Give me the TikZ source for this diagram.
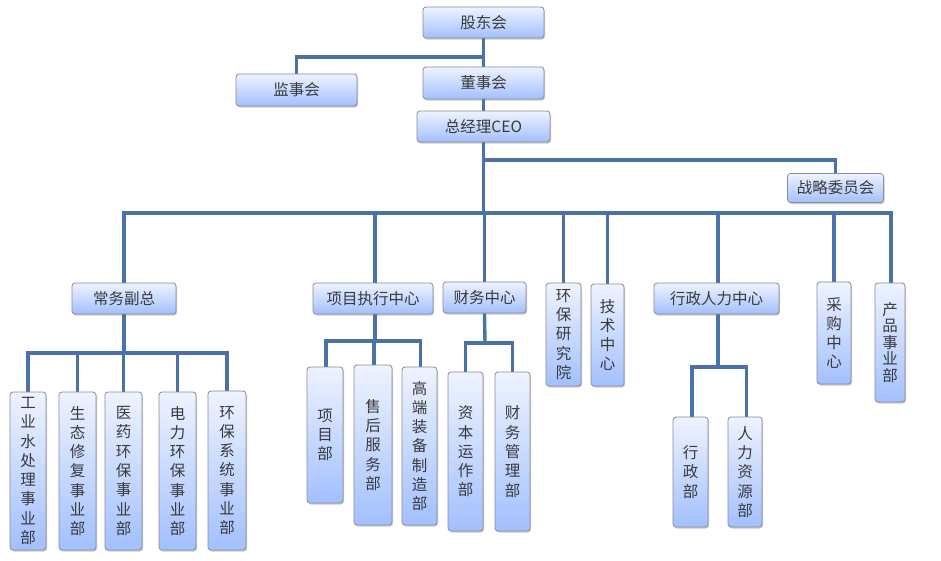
\documentclass[tikz,border=0pt]{standalone}
\usepackage{fontspec}
\setmainfont{Noto Sans CJK SC}
\usetikzlibrary{shadows,backgrounds}
\definecolor{linec}{HTML}{4A72A8}
\definecolor{boxtop}{HTML}{EEF3FF}
\definecolor{boxbot}{HTML}{A2C0FF}
\definecolor{boxline}{HTML}{8C8C96}
\definecolor{txt}{HTML}{3A3A3A}
\tikzset{
  box/.style={rectangle, rounded corners=3pt, draw=boxline, line width=0.8pt,
    top color=boxtop, bottom color=boxbot, inner sep=0pt,
    drop shadow={shadow xshift=1pt, shadow yshift=-1.5pt, opacity=0.35, fill=black!60},
    text=txt, font=\fontsize{15.5}{19.3}\selectfont, align=center},
  conn/.style={draw=linec, line width=3.4pt}
}
\newcommand{\bx}[6]{\node[box, minimum width=#4, minimum height=#5] (#1) at (#2,#3) {#6};}
\begin{document}
\begin{tikzpicture}[x=1pt,y=-1pt]
\useasboundingbox (0,0) rectangle (941,560);
% top level
\bx{gd}{483.5}{22.5}{121pt}{31pt}{股东会}
\bx{jsh}{296.5}{90}{121pt}{32pt}{监事会}
\bx{ds}{483.5}{83}{121pt}{32pt}{董事会}
\bx{ceo}{483.5}{126.5}{133pt}{31pt}{总经理CEO}
\bx{zl}{835.5}{188}{96pt}{29pt}{战略委员会}
% second level
\bx{cw}{124}{298.5}{104pt}{31pt}{常务副总}
\bx{xm}{373}{298.5}{120pt}{31pt}{项目执行中心}
\bx{cwzx}{484.5}{297.5}{83pt}{31pt}{财务中心}
\bx{hb}{563.5}{334.5}{35pt}{103pt}{环\\保\\研\\究\\院}
\bx{jszx}{607.5}{335}{33pt}{102pt}{技\\术\\中\\心}
\bx{xz}{716.5}{298.5}{125pt}{31pt}{行政人力中心}
\bx{cg}{834}{333}{34pt}{102pt}{采\\购\\中\\心}
\node[box, minimum width=30pt, minimum height=119pt, font=\fontsize{15.5}{16.5}\selectfont] (cp) at (890,342.5) {产\\品\\事\\业\\部};
% third level
\bx{a1}{28}{471}{36pt}{158pt}{工\\业\\水\\处\\理\\事\\业\\部}
\bx{a2}{77.5}{471}{37pt}{158pt}{生\\态\\修\\复\\事\\业\\部}
\bx{a3}{123.5}{471}{37pt}{158pt}{医\\药\\环\\保\\事\\业\\部}
\bx{a4}{177.5}{471}{37pt}{158pt}{电\\力\\环\\保\\事\\业\\部}
\bx{a5}{227}{470.5}{38pt}{159pt}{环\\保\\系\\统\\事\\业\\部}
\bx{b1}{325}{435}{36pt}{136pt}{项\\目\\部}
\bx{b2}{373}{445}{38pt}{160pt}{售\\后\\服\\务\\部}
\bx{b3}{419.5}{446}{35pt}{158pt}{高\\端\\装\\备\\制\\造\\部}
\bx{c1}{465.5}{451.5}{35pt}{159pt}{资\\本\\运\\作\\部}
\bx{c2}{512.5}{451.5}{35pt}{159pt}{财\\务\\管\\理\\部}
\bx{d1}{690.5}{472}{35pt}{110pt}{行\\政\\部}
\bx{d2}{745}{472}{34pt}{110pt}{人\\力\\资\\源\\部}
% junction coordinates
\coordinate (j0) at (483.5,57);
\coordinate (j1) at (483.5,160);
\coordinate (m) at (483.5,213);
\coordinate (ja) at (124,353);
\coordinate (jb) at (375,341);
\coordinate (jc) at (485,343);
\coordinate (jd) at (718,367);
\begin{pgfonlayer}{background}
\draw[conn] (gd.south) -- (ds.north);
\draw[conn] (ds.south) -- (ceo.north);
\draw[conn] (j0) -| (jsh.north);
\draw[conn] (ceo.south) -- (m);
\draw[conn] (j1) -| (zl.north);
\draw[conn] (m) -| (cw.north);
\draw[conn] (m) -| ([xshift=2pt]xm.north);
\draw[conn] (m) -| (cwzx.north);
\draw[conn] (m) -| (hb.north);
\draw[conn] (m) -| (jszx.north);
\draw[conn] (m) -| ([xshift=1.5pt]xz.north);
\draw[conn] (m) -| (cg.north);
\draw[conn] (m) -| ([xshift=1pt]cp.north);
\draw[conn] (cw.south) -- (ja);
\foreach \n in {a1,a2,a3,a4,a5} \draw[conn] (ja) -| (\n.north);
\draw[conn] ([xshift=2pt]xm.south) -- (jb);
\foreach \n in {b1,b2,b3} \draw[conn] (jb) -| ([xshift=1pt]\n.north);
\draw[conn] (cwzx.south) -- (jc);
\foreach \n in {c1,c2} \draw[conn] (jc) -| (\n.north);
\draw[conn] ([xshift=1.5pt]xz.south) -- (jd);
\foreach \n in {d1,d2} \draw[conn] (jd) -| ([xshift=1.5pt]\n.north);
\end{pgfonlayer}
\end{tikzpicture}
\end{document}
